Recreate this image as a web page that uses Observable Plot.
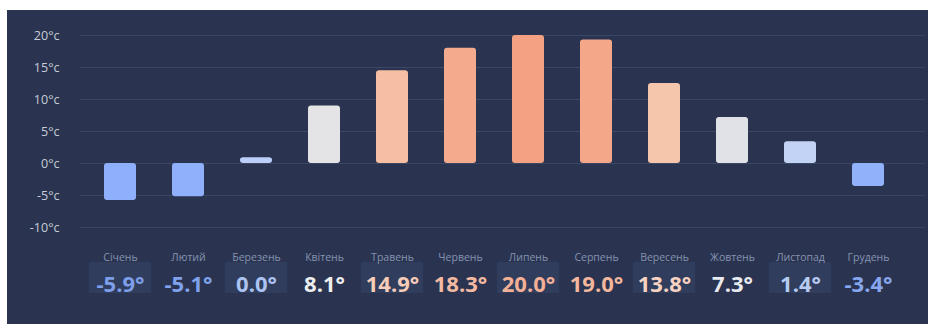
<!DOCTYPE html>
<html>
<head>
<meta charset="utf-8">
<script src="https://cdn.jsdelivr.net/npm/d3@7"></script>
<script src="https://cdn.jsdelivr.net/npm/@observablehq/plot@0.6"></script>
<style>
  html, body { margin: 0; padding: 0; background: #ffffff; }
  #chart { position: absolute; left: 7px; top: 10px; width: 921px; height: 314px; background: #2a3450; overflow: hidden; }
  #chart svg { display: block; }
</style>
</head>
<body>
<div id="chart"></div>
<script>
const months = ["Січень","Лютий","Березень","Квітень","Травень","Червень","Липень","Серпень","Вересень","Жовтень","Листопад","Грудень"];
// printed monthly values
const temps = [-5.9, -5.1, 0.0, 8.1, 14.9, 18.3, 20.0, 19.0, 13.8, 7.3, 1.4, -3.4];
// bar heights as drawn in the picture
const barHeights = [-5.8, -5.2, 0.9, 9.0, 14.5, 18.0, 20.0, 19.3, 12.5, 7.2, 3.4, -3.6];
const yTicks = [-10, -5, 0, 5, 10, 15, 20];

const data = months.map((m, i) => ({month: m, t: temps[i], h: barHeights[i], i}));

const xOpts = {type: "band", domain: months, range: [56.7, 917.8], padding: 0.534, axis: null};
const colorDomain = [-6, -3, 0, 8, 14, 20];
const font = "'Open Sans', 'Noto Sans', sans-serif";

const barsChart = Plot.plot({
  width: 921, height: 227,
  marginTop: 25, marginBottom: 10, marginLeft: 73, marginRight: 3,
  style: {background: "transparent", fontFamily: font, color: "#c8cdd8"},
  x: xOpts,
  y: {domain: [-10, 20], axis: null},
  color: {type: "linear", domain: colorDomain, range: ["#8eaffb", "#91b2fb", "#bccff8", "#e4e4e6", "#f6c4aa", "#f3a182"]},
  marks: [
    Plot.gridY(yTicks, {stroke: "#3b4663", strokeOpacity: 1, strokeWidth: 1}),
    Plot.axisY(yTicks, {tickSize: 0, tickPadding: 21, tickFormat: d => `${d}°c`, fill: "#c8cdd8", fontSize: 12.5, label: null}),
    Plot.barY(data, {x: "month", y: "h", fill: "t", rx: 3})
  ]
});

const tableChart = Plot.plot({
  width: 921, height: 87,
  marginTop: 0, marginBottom: 0, marginLeft: 73, marginRight: 3,
  style: {background: "transparent", fontFamily: font},
  x: xOpts,
  color: {type: "linear", domain: colorDomain, range: ["#7d9fea", "#88a8ef", "#abc3f3", "#eeeeef", "#f8d2c0", "#f3b096"]},
  marks: [
    Plot.cell(data.filter(d => d.i % 2 === 0), {x: "month", fill: "#313d5c", insetTop: 25, insetBottom: 31, insetLeft: -15, insetRight: -15}),
    Plot.text(data, {x: "month", text: "month", frameAnchor: "top", dy: 16, fill: "#8593b0", fontSize: 10.5}),
    Plot.text(data, {x: "month", text: d => `${d.t.toFixed(1)}°`, frameAnchor: "top", dy: 39, fill: "t", fontSize: 22, fontWeight: 700})
  ]
});

const el = document.getElementById("chart");
el.appendChild(barsChart);
el.appendChild(tableChart);
</script>
</body>
</html>
